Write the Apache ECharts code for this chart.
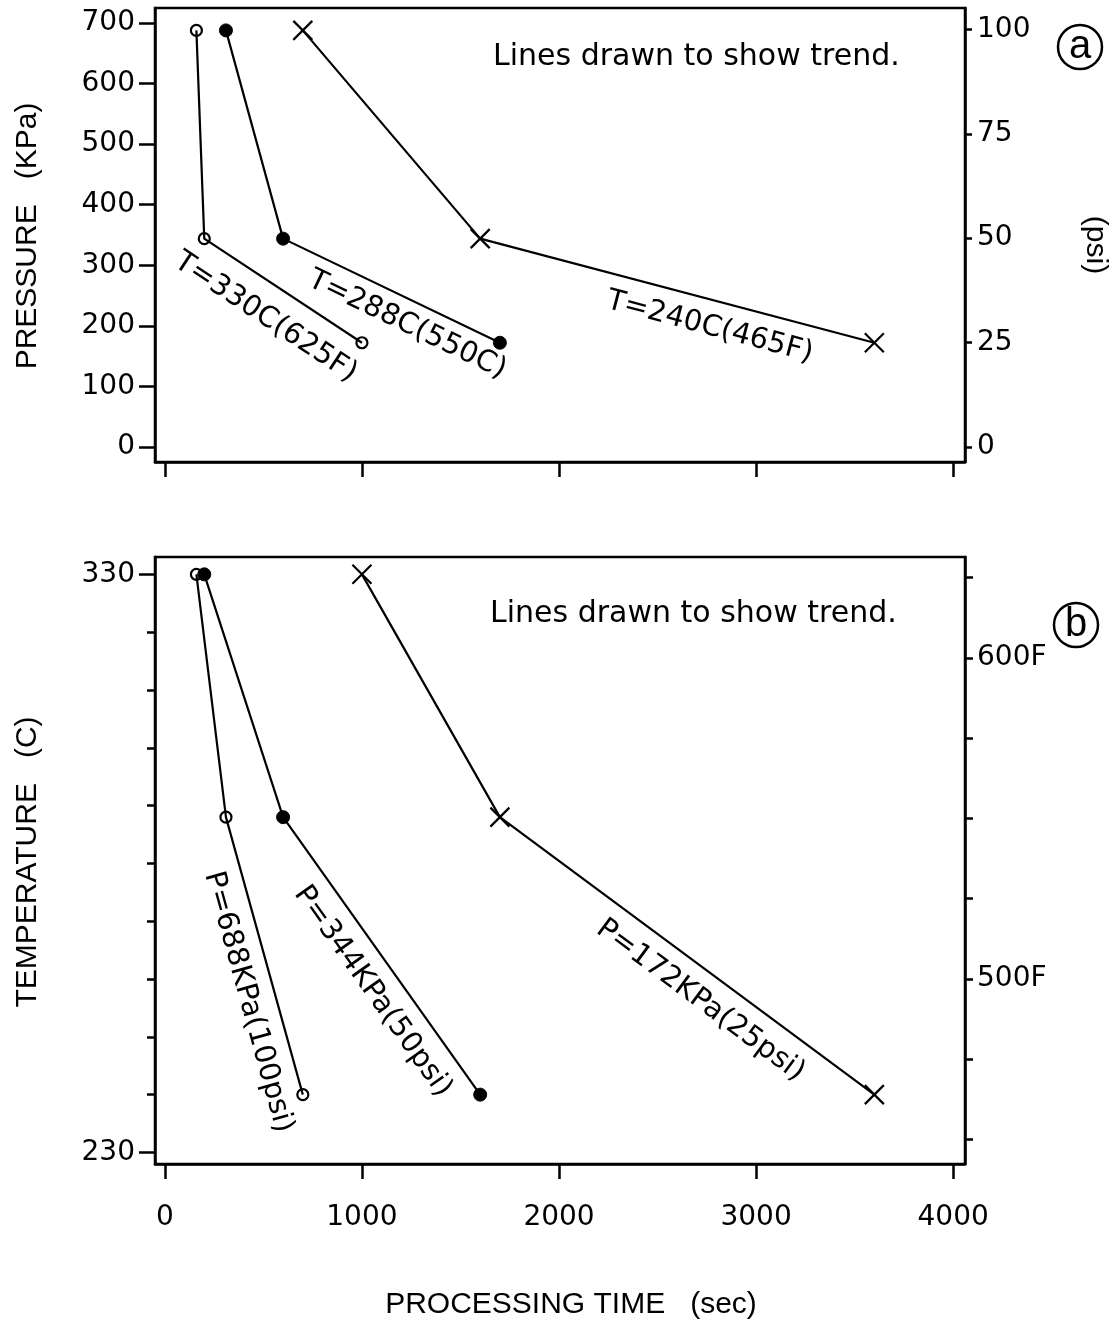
<!DOCTYPE html>
<html>
<head>
<meta charset="utf-8">
<script src="https://cdn.jsdelivr.net/npm/echarts@6/dist/echarts.min.js"></script>
<style>
  html, body { margin: 0; padding: 0; background: #fff; }
  #chart { width: 1114px; height: 1324px; }
</style>
</head>
<body>
<div id="chart"></div>
<script>
// Processing time (sec) for each temperature (rows) at each pressure (columns)
const temperaturesC = [330, 288, 240];
const temperatureTags = ['T=330C(625F)', 'T=288C(550C)', 'T=240C(465F)'];
const pressuresKPa = [688, 344, 172];
const pressureTags = ['P=688KPa(100psi)', 'P=344KPa(50psi)', 'P=172KPa(25psi)'];
const timeAt330C = [160, 200, 1000];
const timeAt288C = [310, 600, 1700];
const timeAt240C = [700, 1600, 3600];
const timeByTemperature = [timeAt330C, timeAt288C, timeAt240C];

// Tick positions
const timeTicks = [0, 1000, 2000, 3000, 4000];
const kpaTicks = [0, 100, 200, 300, 400, 500, 600, 700];
const psiTicks = [0, 25, 50, 75, 100];
const tempLabelTicks = [230, 330];
const tempMinorTicks = [230, 240, 250, 260, 270, 280, 290, 300, 310, 320, 330];
const fahrenheitTicks = [450, 475, 500, 525, 550, 575, 600, 625];
const fahrenheitLabels = [500, 600];

const KPA_PER_PSI = 6.895;
const cToF = c => c * 9 / 5 + 32;

const timeRange = [-50, 4060];
const kpaRange = [-25, 725];
const tempRange = [228, 333];

const INK = '#000';
const NUM_FONT = 'DejaVu Sans';
const TITLE_FONT = '"Liberation Sans Narrow", "Liberation Sans", sans-serif';

// marker per row/column: open circle, filled circle, cross
const markers = [
  { symbol: 'circle', symbolSize: 11, itemStyle: { color: 'rgba(0,0,0,0)', borderColor: INK, borderWidth: 2.2 } },
  { symbol: 'circle', symbolSize: 13, itemStyle: { color: INK, borderColor: INK, borderWidth: 1 } },
  { symbol: 'path://M0,0L10,10M10,0L0,10', symbolSize: 19, itemStyle: { color: 'rgba(0,0,0,0)', borderColor: INK, borderWidth: 2.2 } }
];

const tickStyle = { color: INK, width: 2.5 };
const numLabel = { color: INK, fontFamily: NUM_FONT, fontSize: 28 };
const plain = v => String(v);

function timeAxis(gridIndex, withLabels) {
  return {
    type: 'value', gridIndex, min: timeRange[0], max: timeRange[1],
    axisLine: { show: true, onZero: false, lineStyle: tickStyle },
    axisTick: { show: true, inside: false, length: 15, lineStyle: tickStyle, customValues: timeTicks },
    axisLabel: Object.assign({ show: withLabels, customValues: timeTicks, margin: 40, formatter: plain }, numLabel),
    splitLine: { show: false }
  };
}

function valueAxis(gridIndex, position, range, ticks, labels, tickLen, margin, formatter, showLine) {
  return {
    type: 'value', gridIndex, position, min: range[0], max: range[1],
    axisLine: { show: showLine !== false, onZero: false, lineStyle: tickStyle },
    axisTick: { show: true, inside: false, length: tickLen, lineStyle: tickStyle, customValues: ticks },
    axisLabel: Object.assign({ show: !!labels, customValues: labels || [], margin, formatter: formatter || plain }, numLabel),
    splitLine: { show: false }
  };
}

const series = [];
// (a) pressure vs time, one line per temperature
timeByTemperature.forEach((times, i) => {
  series.push(Object.assign({
    type: 'line', xAxisIndex: 0, yAxisIndex: 0,
    data: times.map((t, j) => [t, pressuresKPa[j]]),
    lineStyle: { color: INK, width: 2.2 },
    silent: true, animation: false, z: 3
  }, markers[i]));
});
// (b) temperature vs time, one line per pressure
pressuresKPa.forEach((p, j) => {
  series.push(Object.assign({
    type: 'line', xAxisIndex: 1, yAxisIndex: 2,
    data: temperaturesC.map((c, i) => [timeByTemperature[i][j], c]),
    lineStyle: { color: INK, width: 2.2 },
    silent: true, animation: false, z: 3
  }, markers[j]));
});

const chart = echarts.init(document.getElementById('chart'), null, { renderer: 'canvas' });
chart.setOption({
  backgroundColor: '#fff',
  animation: false,
  grid: [
    { left: 155, top: 8, width: 810, height: 454, show: true, borderColor: INK, borderWidth: 2.5, backgroundColor: 'transparent' },
    { left: 155, top: 557, width: 810, height: 607, show: true, borderColor: INK, borderWidth: 2.5, backgroundColor: 'transparent' }
  ],
  xAxis: [timeAxis(0, false), timeAxis(1, true)],
  yAxis: [
    valueAxis(0, 'left', kpaRange, kpaTicks, kpaTicks, 16, 20),
    valueAxis(0, 'right', kpaRange.map(v => v / KPA_PER_PSI), psiTicks, psiTicks, 7, 12),
    valueAxis(1, 'left', tempRange, tempLabelTicks, tempLabelTicks, 16, 20),
    valueAxis(1, 'left', tempRange, tempMinorTicks, null, 8, 20, null, false),
    valueAxis(1, 'right', tempRange.map(cToF), fahrenheitTicks, fahrenheitLabels, 8, 12, v => v + 'F')
  ],
  series
});

// Text laid along a polyline segment, offset to its lower-left side
function segmentLabel(seriesIndex, p0, p1, t, offset, text) {
  const a = chart.convertToPixel({ seriesIndex }, p0);
  const b = chart.convertToPixel({ seriesIndex }, p1);
  const dx = b[0] - a[0], dy = b[1] - a[1];
  const len = Math.hypot(dx, dy);
  const ux = dx / len, uy = dy / len;
  return {
    type: 'text',
    x: a[0] + dx * t - uy * offset,
    y: a[1] + dy * t + ux * offset,
    rotation: -Math.atan2(dy, dx),
    silent: true,
    style: { text, fill: INK, font: '29px "DejaVu Sans"', align: 'center', verticalAlign: 'middle' }
  };
}

const graphic = [];
const tempLabelPlace = [[0.5, 32], [0.62, 24], [0.6, 27]];
timeByTemperature.forEach((times, i) => {
  const [t, off] = tempLabelPlace[i];
  graphic.push(segmentLabel(i, [times[1], pressuresKPa[1]], [times[2], pressuresKPa[2]], t, off, temperatureTags[i]));
});
const pressLabelPlace = [[0.64, 28], [0.57, 28], [0.58, 28]];
pressuresKPa.forEach((p, j) => {
  const [t, off] = pressLabelPlace[j];
  graphic.push(segmentLabel(3 + j,
    [timeByTemperature[1][j], temperaturesC[1]], [timeByTemperature[2][j], temperaturesC[2]],
    t, off, pressureTags[j]));
});

function plainText(x, y, text, font, rotation, align) {
  return {
    type: 'text', x, y, rotation: rotation || 0, silent: true,
    style: { text, fill: INK, font, align: align || 'center', verticalAlign: 'middle' }
  };
}
function panelTag(cx, cy, letter) {
  return [
    { type: 'circle', silent: true, shape: { cx, cy, r: 22 }, style: { fill: 'none', stroke: INK, lineWidth: 2.5 } },
    plainText(cx, cy, letter, '40px ' + TITLE_FONT)
  ];
}

graphic.push(
  plainText(493, 57, 'Lines drawn to show trend.', '30px "DejaVu Sans"', 0, 'left'),
  plainText(490, 614, 'Lines drawn to show trend.', '30px "DejaVu Sans"', 0, 'left'),
  plainText(28, 236, 'PRESSURE   (KPa)', '30px ' + TITLE_FONT, Math.PI / 2),
  plainText(28, 862, 'TEMPERATURE   (C)', '30px ' + TITLE_FONT, Math.PI / 2),
  plainText(1095, 245, '(psi)', '30px ' + TITLE_FONT, -Math.PI / 2),
  plainText(571, 1305, 'PROCESSING TIME   (sec)', '30px ' + TITLE_FONT),
  ...panelTag(1080, 47, 'a'),
  ...panelTag(1076, 625, 'b')
);

chart.setOption({ graphic });
</script>
</body>
</html>
